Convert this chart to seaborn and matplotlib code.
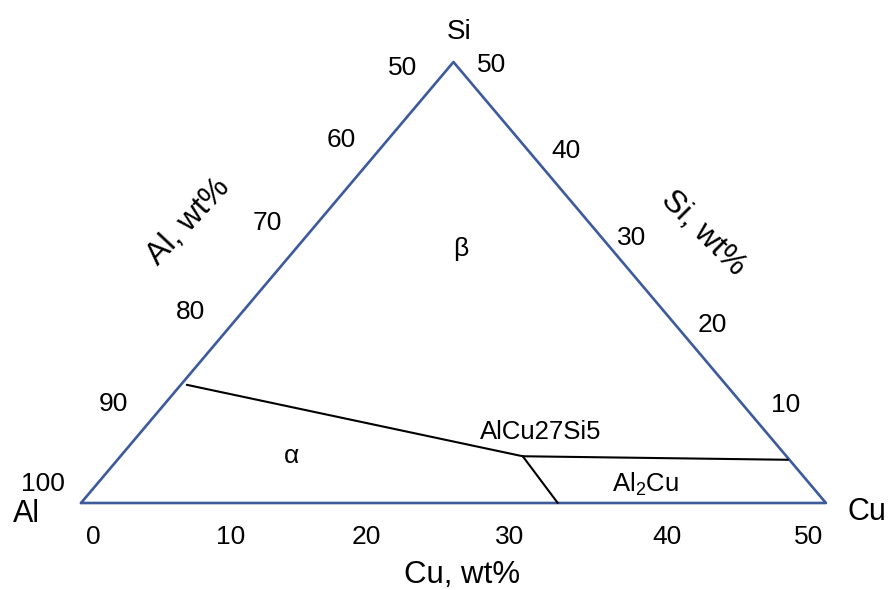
"""
Diagrama ternário Al-Cu-Si (canto rico em Al)
"""
import numpy as np
import pandas as pd
import matplotlib.pyplot as plt
import seaborn as sns

# composições (wt%) dos vértices: Al, Al50Cu50, Al50Si50
vert_cu = [0, 50, 0, 0]
vert_si = [0, 0, 50, 0]

# linhas de fronteira entre fases (Cu wt%, Si wt%)
fronteiras = {
    'alfa_beta': ([0.4, 27.0], [13.4, 5.3]),
    'beta_Al2Cu': ([27.0, 45.0], [5.3, 4.9]),
    'alfa_Al2Cu': ([27.0, 32.0], [5.3, 0.0]),
}

# rótulos dos eixos
ticks_cu = ['0', '10', '20', '30', '40', '50']
ticks_al = ['50', '60', '70', '80', '90', '100']
ticks_si = ['50', '40', '30', '20', '10']


def ternario(cu, si):
    cu = np.asarray(cu, float)
    si = np.asarray(si, float)
    return cu + si / 2, si


# 1. Tabelas para o seaborn
x, y = ternario(vert_cu, vert_si)
df_tri = pd.DataFrame({'x': x, 'y': y, 'ordem': range(len(x))})

linhas = []
for nome, (cu, si) in fronteiras.items():
    lx, ly = ternario(cu, si)
    for i in range(len(lx)):
        linhas.append({'x': lx[i], 'y': ly[i], 'seg': nome, 'ordem': i})
df_lin = pd.DataFrame(linhas)

# 2. Figura
sns.set_style('white')
plt.rcParams['font.family'] = ['Liberation Sans', 'DejaVu Sans']
plt.rcParams['text.color'] = 'black'
plt.rcParams['mathtext.fontset'] = 'custom'
plt.rcParams['mathtext.rm'] = 'Liberation Sans'
plt.rcParams['mathtext.default'] = 'rm'

fig = plt.figure(figsize=(8.9, 5.9), dpi=100)
ax = fig.add_axes([0, 0, 1, 1])

sns.lineplot(data=df_tri, x='x', y='y', sort=False, estimator=None,
             color='#3C5A9C', linewidth=1.9, ax=ax)
sns.lineplot(data=df_lin, x='x', y='y', units='seg', sort=False,
             estimator=None, color='black', linewidth=1.5, ax=ax)

ax.set_xlim(-5.436, 54.30)
ax.set_ylim(-9.864, 57.03)
ax.axis('off')

# 3. Rótulos
fs_num = 19
pos_cu = [0.81, 10.07, 19.13, 28.79, 39.33, 48.86]
for t, px in zip(ticks_cu, pos_cu):
    ax.text(px, -4.65, t, ha='center', va='baseline', fontsize=fs_num)

pos_al = [(21.61, 48.53), (17.45, 40.36), (12.48, 30.95),
          (7.38, 20.86), (2.15, 10.43), (-2.55, 1.36)]
for t, (px, py) in zip(ticks_al, pos_al):
    ax.text(px, py, t, ha='center', va='baseline', fontsize=fs_num)

pos_si = [(27.58, 48.87), (32.55, 39.12), (36.98, 29.25),
          (42.35, 19.39), (47.32, 10.32)]
for t, (px, py) in zip(ticks_si, pos_si):
    ax.text(px, py, t, ha='center', va='baseline', fontsize=fs_num)

ax.text(25.37, 52.61, 'Si', ha='center', va='baseline', fontsize=20)
ax.text(-3.69, -2.15, 'Al', ha='center', va='baseline', fontsize=22)
ax.text(52.75, -1.93, 'Cu', ha='center', va='baseline', fontsize=22)

ax.text(25.57, -9.07, 'Cu, wt%', ha='center', va='baseline', fontsize=22.5)
ax.text(7.25, 31.86, 'Al, wt%', ha='center', va='center', fontsize=23,
        rotation=47, rotation_mode='anchor')
ax.text(41.74, 30.61, 'Si, wt%', ha='center', va='center', fontsize=23,
        rotation=-45, rotation_mode='anchor')

ax.text(25.50, 28.80, 'β', ha='center', va='center', fontsize=19)
ax.text(14.16, 4.54, 'α', ha='center', va='baseline', fontsize=19)
ax.text(30.84, 7.26, 'AlCu27Si5', ha='center', va='baseline', fontsize=18.5)
ax.text(37.92, 1.25, r'Al$_2$Cu', ha='center', va='baseline', fontsize=18.5)

plt.savefig('out.png', dpi=100)
